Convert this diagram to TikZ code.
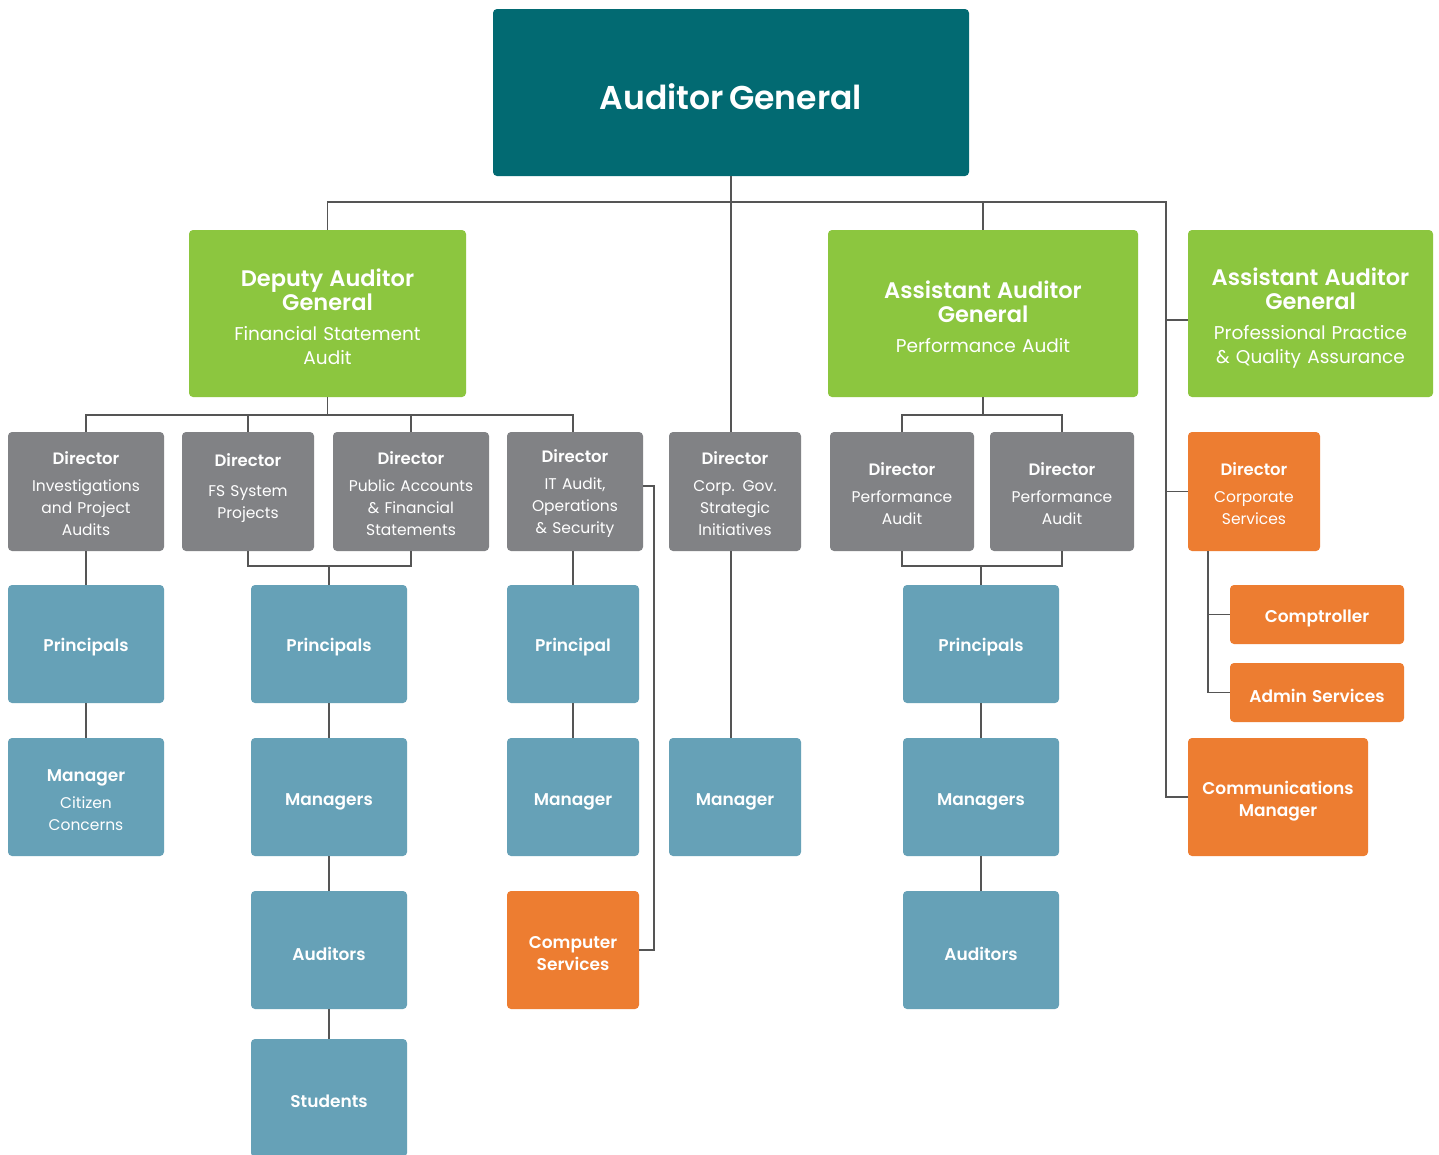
\documentclass[tikz,border=0pt]{standalone}
\usepackage{fontspec}
\setmainfont{Poppins}[BoldFont={Poppins SemiBold}]
\definecolor{agc}{HTML}{026A72}
\definecolor{grc}{HTML}{8CC63F}
\definecolor{gyc}{HTML}{818285}
\definecolor{blc}{HTML}{66A1B7}
\definecolor{orc}{HTML}{ED7D31}
\definecolor{lnc}{HTML}{555555}
\tikzset{
  boxbase/.style={rounded corners=4pt, inner sep=0pt, align=center, text=white, font=\fontsize{15.5}{22}\selectfont},
  agbox/.style={boxbase, fill=agc},
  greenbox/.style={boxbase, fill=grc, font=\fontsize{18.5}{24}\selectfont},
  graybox/.style={boxbase, fill=gyc},
  bluebox/.style={boxbase, fill=blc},
  orangebox/.style={boxbase, fill=orc},
  conn/.style={draw=lnc, line width=1.3pt},
}
\newcommand\bx[8][3.5]{%
  \pgfmathsetmacro\bxw{#6-#4}%
  \pgfmathsetmacro\bxh{#7-#5}%
  \pgfmathsetmacro\bxt{#6-#4-6}%
  \node[#3, minimum width=\bxw pt, minimum height=\bxh pt] (#2) at ({(#4+#6)/2},{(#5+#7)/2}) {};
  \node[#3, fill=none, text width=\bxt pt] (#2-t) at ([yshift=-#1pt]#2.center) {#8};}
\newcommand\hd[1]{{\bfseries\fontsize{16.5}{22}\selectfont #1}}
\newcommand\gt[1]{{\bfseries\fontsize{22.5}{24}\selectfont #1}}
\newcommand\lb[1]{{\bfseries\fontsize{17}{22}\selectfont #1}}
\begin{document}
\begin{tikzpicture}[x=1pt,y=-1pt]
\clip (0,0) rectangle (1439,1154);
\fill[white] (0,0) rectangle (1439,1154);
% coordinates for buses
\coordinate (busA) at (0,202);
\coordinate (rt) at (1166,202);
\coordinate (busB) at (0,415);
\coordinate (busC) at (0,566);
\coordinate (itx) at (654,0);
\coordinate (csx) at (1208,0);
% boxes
\bx[4]{ag}{agbox}{493}{9}{969}{176}{{\bfseries\fontsize{33}{36}\selectfont Auditor General}}
\bx[3]{dag}{greenbox}{189}{230}{466}{397}{\gt{Deputy Auditor\\General}\\[6pt]Financial Statement\\Audit}
\bx[3]{aap}{greenbox}{828}{230}{1138}{397}{\gt{Assistant Auditor\\General}\\[6pt]Performance Audit}
\bx[5]{aaq}{greenbox}{1188}{230}{1433}{397}{\gt{Assistant Auditor\\General}\\[6pt]Professional Practice\\\& Quality Assurance}
\bx[2]{d1}{graybox}{8}{432}{164}{551}{\hd{Director}\\[5pt]Investigations\\and Project\\Audits}
\bx[-3]{d2}{graybox}{182}{432}{314}{551}{\hd{Director}\\[8pt]FS System\\Projects}
\bx[2]{d3}{graybox}{333}{432}{489}{551}{\hd{Director}\\[5pt]Public Accounts\\\& Financial\\Statements}
\bx[2]{d4}{graybox}{507}{432}{643}{551}{\hd{Director}\\[5pt]IT Audit,\\Operations\\\& Security}
\bx[2]{d5}{graybox}{669}{432}{801}{551}{\hd{Director}\\[5pt]Corp. Gov.\\Strategic\\Initiatives}
\bx[2]{d6}{graybox}{830}{432}{974}{551}{\hd{Director}\\[5pt]Performance\\Audit}
\bx[2]{d7}{graybox}{990}{432}{1134}{551}{\hd{Director}\\[5pt]Performance\\Audit}
\bx[2]{dcs}{orangebox}{1188}{432}{1320}{551}{\hd{Director}\\[5pt]Corporate\\Services}
\bx{p1}{bluebox}{8}{585}{164}{703}{\lb{Principals}}
\bx{p2}{bluebox}{251}{585}{407}{703}{\lb{Principals}}
\bx{p4}{bluebox}{507}{585}{639}{703}{\lb{Principal}}
\bx{p6}{bluebox}{903}{585}{1059}{703}{\lb{Principals}}
\bx{comp}{orangebox}{1230}{585}{1404}{644}{\lb{Comptroller}}
\bx{adm}{orangebox}{1230}{663}{1404}{722}{\lb{Admin Services}}
\bx[3]{m1}{bluebox}{8}{738}{164}{856}{\lb{Manager}\\[5pt]Citizen\\Concerns}
\bx[4.5]{m2}{bluebox}{251}{738}{407}{856}{\lb{Managers}}
\bx[4.5]{m4}{bluebox}{507}{738}{639}{856}{\lb{Manager}}
\bx[4.5]{m5}{bluebox}{669}{738}{801}{856}{\lb{Manager}}
\bx[4.5]{m6}{bluebox}{903}{738}{1059}{856}{\lb{Managers}}
\bx[4.5]{com}{orangebox}{1188}{738}{1368}{856}{\lb{Communications\\Manager}}
\bx{a2}{bluebox}{251}{891}{407}{1009}{\lb{Auditors}}
\bx{cs}{orangebox}{507}{891}{639}{1009}{\lb{Computer\\Services}}
\bx{a6}{bluebox}{903}{891}{1059}{1009}{\lb{Auditors}}
\bx{st}{bluebox}{251}{1039}{407}{1157}{\lb{Students}}
\coordinate (aqw) at ([yshift=-6.5pt]aaq.west);
\coordinate (d4e) at ([yshift=5.5pt]d4.east);
% connectors
\draw[conn] (dag.north) |- (rt) -- (rt |- com.west) -- (com.west);
\draw[conn] (ag.south) -- (ag.south |- d5.north);
\draw[conn] (aap.north) -- (aap.north |- busA);
\draw[conn] (rt |- aqw) -- (aqw);
\draw[conn] (rt |- dcs.west) -- (dcs.west);
% DAG directors
\draw[conn] (dag.south) -- (dag.south |- busB);
\draw[conn] (d1.north) |- (p4.north |- busB) -- (p4.north |- d4.north);
\draw[conn] (d2.north) -- (d2.north |- busB);
\draw[conn] (d3.north) -- (d3.north |- busB);
% AAP directors
\draw[conn] (aap.south) -- (aap.south |- busB);
\draw[conn] (d6.north) |- (d7.north |- busB) -- (d7.north);
% verticals
\draw[conn] (d1.south) -- (p1.north);
\draw[conn] (p1.south) -- (m1.north);
\draw[conn] (d2.south) |- (d3.south |- busC) -- (d3.south);
\draw[conn] (p2.north |- busC) -- (p2.north);
\draw[conn] (p2.south) -- (m2.north);
\draw[conn] (m2.south) -- (a2.north);
\draw[conn] (a2.south) -- (st.north);
\draw[conn] (p4.north |- d4.south) -- (p4.north);
\draw[conn] (p4.south) -- (m4.north);
\draw[conn] (d4e) -| (itx |- cs.east) -- (cs.east);
\draw[conn] (ag.south |- d5.south) -- (ag.south |- m5.north);
\draw[conn] (d6.south) |- (d7.south |- busC) -- (d7.south);
\draw[conn] (p6.north |- busC) -- (p6.north);
\draw[conn] (p6.south) -- (m6.north);
\draw[conn] (m6.south) -- (a6.north);
% corporate services
\draw[conn] (csx |- dcs.south) |- (adm.west);
\draw[conn] (csx |- comp.west) -- (comp.west);
\end{tikzpicture}
\end{document}
